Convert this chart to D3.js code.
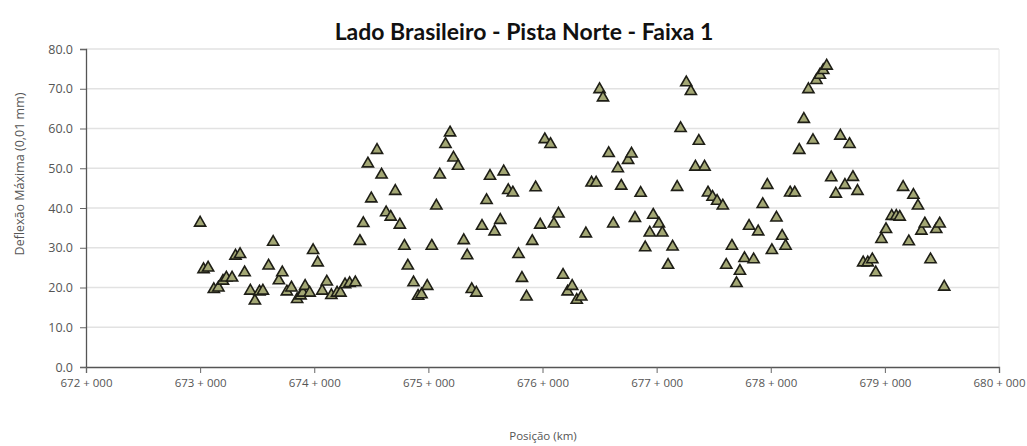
<!DOCTYPE html>
<html>
<head>
<meta charset="utf-8">
<script src="https://cdn.jsdelivr.net/npm/d3@7"></script>
<style>
  body { margin: 0; background: #fff; }
  svg text { font-family: "Open Sans", sans-serif; }
</style>
</head>
<body>
<div id="chart"></div>
<script>
// posição (km) e deflexão máxima (0,01 mm)
var posicoes = [
  673.00, 673.03, 673.07, 673.12, 673.16, 673.20, 673.23, 673.28, 673.31, 673.35,
  673.39, 673.44, 673.48, 673.52, 673.55, 673.60, 673.64, 673.69, 673.72, 673.76,
  673.80, 673.85, 673.88, 673.90, 673.92, 673.96, 673.99, 674.03, 674.07, 674.11,
  674.15, 674.20, 674.23, 674.27, 674.31, 674.36, 674.40, 674.43, 674.47, 674.50,
  674.55, 674.59, 674.63, 674.67, 674.71, 674.75, 674.79, 674.82, 674.87, 674.91,
  674.94, 674.99, 675.03, 675.07, 675.10, 675.15, 675.19, 675.22, 675.26, 675.31,
  675.34, 675.38, 675.42, 675.47, 675.51, 675.54, 675.58, 675.63, 675.66, 675.70,
  675.74, 675.79, 675.82, 675.86, 675.91, 675.94, 675.98, 676.02, 676.07, 676.10,
  676.14, 676.18, 676.22, 676.26, 676.30, 676.34, 676.38, 676.43, 676.47, 676.50,
  676.53, 676.58, 676.62, 676.66, 676.69, 676.75, 676.78, 676.81, 676.86, 676.90,
  676.94, 676.97, 677.02, 677.05, 677.10, 677.14, 677.18, 677.21, 677.26, 677.30,
  677.34, 677.37, 677.42, 677.45, 677.49, 677.53, 677.58, 677.61, 677.66, 677.70,
  677.73, 677.77, 677.81, 677.85, 677.89, 677.93, 677.97, 678.01, 678.05, 678.10,
  678.13, 678.17, 678.21, 678.25, 678.29, 678.33, 678.37, 678.40, 678.43, 678.46,
  678.49, 678.53, 678.57, 678.61, 678.65, 678.69, 678.72, 678.76, 678.81, 678.85,
  678.89, 678.92, 678.97, 679.01, 679.06, 679.10, 679.13, 679.16, 679.21, 679.25,
  679.29, 679.32, 679.35, 679.40, 679.45, 679.48, 679.52
];
var deflexoes = [
  36.5, 24.8, 25.2, 19.8, 20.2, 21.9, 22.7, 22.7, 28.2, 28.6,
  24.0, 19.4, 16.9, 19.2, 19.4, 25.7, 31.7, 22.0, 24.0, 19.2,
  20.2, 17.3, 18.2, 18.9, 20.6, 18.9, 29.6, 26.5, 19.4, 21.7,
  18.3, 18.9, 18.9, 21.0, 21.3, 21.5, 31.9, 36.4, 51.4, 42.6,
  54.8, 48.6, 39.1, 38.0, 44.5, 36.0, 30.7, 25.7, 21.5, 18.1,
  18.5, 20.6, 30.7, 40.8, 48.6, 56.3, 59.2, 52.9, 50.8, 32.1,
  28.3, 19.8, 18.9, 35.7, 42.2, 48.3, 34.3, 37.2, 49.4, 44.7,
  44.1, 28.6, 22.6, 17.9, 31.9, 45.4, 36.0, 57.5, 56.3, 36.3,
  38.8, 23.4, 19.2, 20.6, 17.1, 17.9, 33.8, 46.6, 46.6, 70.1,
  68.0, 54.0, 36.3, 50.2, 45.8, 52.3, 53.9, 37.7, 44.0, 30.3,
  34.0, 38.5, 36.3, 34.0, 25.9, 30.5, 45.5, 60.3, 71.8, 69.6,
  50.6, 57.1, 50.6, 44.1, 43.0, 42.0, 40.8, 25.9, 30.7, 21.3,
  24.4, 27.6, 35.7, 27.3, 34.3, 41.2, 46.0, 29.6, 37.8, 33.2,
  30.7, 44.1, 44.1, 54.8, 62.6, 70.1, 57.3, 72.4, 73.7, 74.9,
  76.0, 47.9, 43.8, 58.4, 46.0, 56.3, 48.0, 44.5, 26.5, 26.5,
  27.3, 24.0, 32.4, 34.9, 38.2, 38.2, 38.0, 45.5, 31.8, 43.5,
  40.8, 34.5, 36.3, 27.3, 34.9, 36.3, 20.4
];
var xTicks = [672, 673, 674, 675, 676, 677, 678, 679, 680];
var yTicks = [0, 10, 20, 30, 40, 50, 60, 70, 80];
var titulo = "Lado Brasileiro - Pista Norte - Faixa 1";
var tituloY = "Deflexão Máxima (0,01 mm)";
var tituloX = "Posição (km)";

var width = 1027, height = 446;
var margin = {top: 49, right: 28, bottom: 79, left: 86};

var svg = d3.select("#chart").append("svg")
    .attr("width", width)
    .attr("height", height);

var x = d3.scaleLinear().domain([672, 680]).range([margin.left, width - margin.right]);
var y = d3.scaleLinear().domain([0, 80]).range([height - margin.bottom, margin.top]);

// grade horizontal
svg.append("g")
    .selectAll("line")
    .data(yTicks.slice(1))
    .enter().append("line")
        .attr("x1", x(672)).attr("x2", x(680))
        .attr("y1", (d) => y(d)).attr("y2", (d) => y(d))
        .attr("stroke", "#e2e2e2")
        .attr("stroke-width", 1.5);

// borda direita clara
svg.append("line")
    .attr("x1", x(680)).attr("x2", x(680))
    .attr("y1", y(80)).attr("y2", y(0))
    .attr("stroke", "#e6e6e6");

var yAxis = svg.append("g")
    .attr("transform", "translate(" + margin.left + ",0)")
    .call(d3.axisLeft(y).tickValues(yTicks).tickSize(6).tickPadding(7)
        .tickFormat(d3.format(".1f")));

var xAxis = svg.append("g")
    .attr("transform", "translate(0," + y(0) + ")")
    .call(d3.axisBottom(x).tickValues(xTicks).tickSize(6).tickPadding(6)
        .tickFormat((d) => d + " + 000"));

[yAxis, xAxis].forEach(function(a) {
    a.select(".domain").attr("stroke", "#555").attr("stroke-width", 1.3);
    a.selectAll(".tick line").attr("stroke", "#666");
    a.selectAll(".tick text").attr("fill", "#555");
});
yAxis.selectAll(".tick text").style("font-size", "12.5px");
xAxis.selectAll(".tick text").style("font-size", "11.5px");

// marcadores triangulares
var tri = d3.symbol().type(d3.symbolTriangle).size(54);
svg.append("g")
    .selectAll("path")
    .data(d3.zip(posicoes, deflexoes))
    .enter().append("path")
        .attr("d", tri)
        .attr("transform", (d) => "translate(" + x(d[0]) + "," + (y(d[1]) + 1) + ")")
        .attr("fill", "#a3a774")
        .attr("stroke", "#1e1e16")
        .attr("stroke-width", 1.6);

svg.append("text")
    .attr("x", 524).attr("y", 40)
    .attr("text-anchor", "middle")
    .style("font-family", "Lato, sans-serif")
    .style("font-size", "23px")
    .style("font-weight", "bold")
    .attr("fill", "#111")
    .text(titulo);

svg.append("text")
    .attr("transform", "translate(24,174) rotate(-90)")
    .attr("text-anchor", "middle")
    .style("font-size", "12.5px")
    .attr("fill", "#555")
    .text(tituloY);

svg.append("text")
    .attr("x", 543).attr("y", 440)
    .attr("text-anchor", "middle")
    .style("font-size", "11.5px")
    .attr("fill", "#555")
    .text(tituloX);
</script>
</body>
</html>
